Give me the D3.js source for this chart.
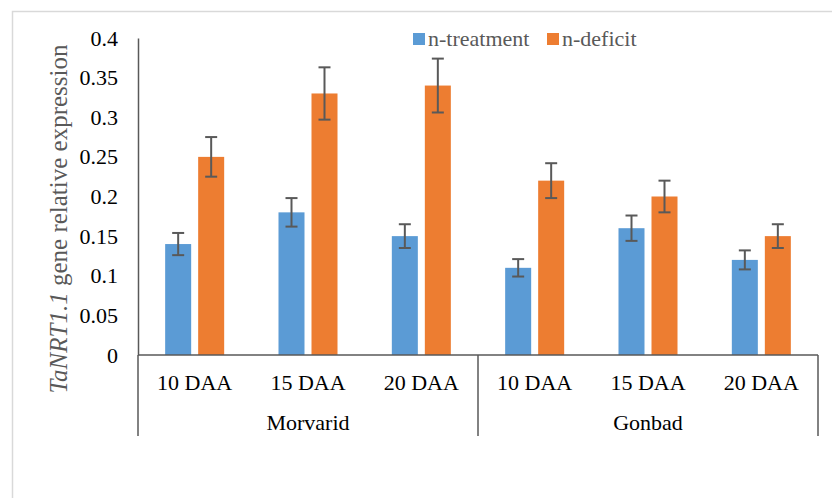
<!DOCTYPE html>
<html>
<head>
<meta charset="utf-8">
<script src="https://cdn.jsdelivr.net/npm/d3@7"></script>
<style>
  html, body { margin: 0; padding: 0; background: #fff; }
  svg { display: block; }
  text { font-family: "Liberation Serif", "Times New Roman", serif; }
</style>
</head>
<body>
<svg id="chart" width="832" height="498"></svg>
<script>
// Sampling days and cultivars
const categories = ["10 DAA", "15 DAA", "20 DAA", "10 DAA", "15 DAA", "20 DAA"];
const cultivars = ["Morvarid", "Gonbad"];
const seriesNames = ["n-treatment", "n-deficit"];
const treatmentValues = [0.14, 0.18, 0.15, 0.11, 0.16, 0.12];
const treatmentErrors = [0.014, 0.018, 0.015, 0.011, 0.016, 0.012];
const deficitValues = [0.25, 0.33, 0.34, 0.22, 0.20, 0.15];
const deficitErrors = [0.025, 0.033, 0.034, 0.022, 0.020, 0.015];
const yTicks = [0, 0.05, 0.1, 0.15, 0.2, 0.25, 0.3, 0.35, 0.4];
const colors = ["#5B9BD5", "#ED7D31"];

const svg = d3.select("#chart");

// Outer chart frame
svg.append("rect")
  .attr("x", 12.5).attr("y", 11.5)
  .attr("width", 840).attr("height", 520)
  .attr("fill", "none").attr("stroke", "#d9d9d9").attr("stroke-width", 1.5);

const plotLeft = 138, plotRight = 818, plotTop = 38, plotBottom = 355;

const x0 = d3.scaleBand().domain(d3.range(categories.length)).range([plotLeft, plotRight]).padding(0);
const x1 = d3.scaleBand().domain(seriesNames).range([0, x0.bandwidth()])
  .paddingInner(0.212).paddingOuter(0.823);
const y = d3.scaleLinear().domain([0, 0.4]).range([plotBottom, plotTop]);

const rows = categories.map((c, i) => ({
  i,
  values: [
    { s: seriesNames[0], v: treatmentValues[i], e: treatmentErrors[i], c: colors[0] },
    { s: seriesNames[1], v: deficitValues[i], e: deficitErrors[i], c: colors[1] }
  ]
}));

// Bars
const groups = svg.append("g").selectAll("g").data(rows).join("g")
  .attr("transform", d => `translate(${x0(d.i)},0)`);

groups.selectAll("rect").data(d => d.values).join("rect")
  .attr("x", d => x1(d.s))
  .attr("y", d => y(d.v))
  .attr("width", x1.bandwidth())
  .attr("height", d => y(0) - y(d.v))
  .attr("fill", d => d.c);

// Error bars
const eb = groups.selectAll("g.err").data(d => d.values).join("g").attr("class", "err")
  .attr("stroke", "#595959").attr("stroke-width", 2);
eb.append("line")
  .attr("x1", d => x1(d.s) + x1.bandwidth() / 2).attr("x2", d => x1(d.s) + x1.bandwidth() / 2)
  .attr("y1", d => y(d.v + d.e)).attr("y2", d => y(d.v - d.e));
[1, -1].forEach(sign => {
  eb.append("line")
    .attr("x1", d => x1(d.s) + x1.bandwidth() / 2 - 6).attr("x2", d => x1(d.s) + x1.bandwidth() / 2 + 6)
    .attr("y1", d => y(d.v + sign * d.e)).attr("y2", d => y(d.v + sign * d.e));
});

// Y axis
const yAxis = d3.axisLeft(y).tickValues(yTicks).tickSize(0).tickPadding(20)
  .tickFormat(d => String(+d.toFixed(2)));
const ya = svg.append("g").attr("transform", `translate(${plotLeft},0)`).call(yAxis);
ya.select(".domain").attr("stroke", "#595959").attr("stroke-width", 1.5);
ya.selectAll("text").attr("font-size", 22).attr("fill", "#000")
  .attr("font-family", "Liberation Serif, serif");

// X axis with two-level category labels
const xa = svg.append("g");
xa.append("line").attr("x1", plotLeft).attr("x2", plotRight).attr("y1", plotBottom).attr("y2", plotBottom)
  .attr("stroke", "#595959").attr("stroke-width", 1.5);
[0, 3, 6].forEach(k => {
  const xp = k < categories.length ? x0(k) : plotRight;
  xa.append("line").attr("x1", xp).attr("x2", xp).attr("y1", plotBottom).attr("y2", 436)
    .attr("stroke", "#595959").attr("stroke-width", 1.5);
});
xa.selectAll("text.cat").data(categories).join("text").attr("class", "cat")
  .attr("x", (d, i) => x0(i) + x0.bandwidth() / 2)
  .attr("y", 390)
  .attr("text-anchor", "middle").attr("font-size", 22).attr("fill", "#000")
  .text(d => d);
xa.selectAll("text.grp").data(cultivars).join("text").attr("class", "grp")
  .attr("x", (d, i) => x0(i * 3) + x0.bandwidth() * 1.5)
  .attr("y", 430)
  .attr("text-anchor", "middle").attr("font-size", 22).attr("fill", "#000")
  .text(d => d);

// Y axis title
const yt = svg.append("text")
  .attr("transform", "translate(67,219) rotate(-90)")
  .attr("text-anchor", "middle").attr("font-size", 25).attr("fill", "#595959");
yt.append("tspan").attr("font-style", "italic").text("TaNRT1.1");
yt.append("tspan").text(" gene relative expression");

// Legend
const legend = svg.append("g").selectAll("g").data(seriesNames).join("g")
  .attr("transform", (d, i) => `translate(${[413, 547][i]},0)`);
legend.append("rect").attr("x", 0).attr("y", 33).attr("width", 12).attr("height", 12)
  .attr("fill", (d, i) => colors[i]);
legend.append("text").attr("x", 15).attr("y", 46).attr("font-size", 22).attr("fill", "#595959")
  .text(d => d);
</script>
</body>
</html>
